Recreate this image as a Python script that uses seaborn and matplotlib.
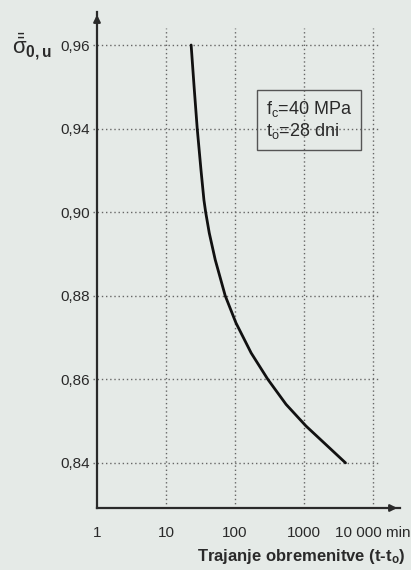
import numpy as np
import pandas as pd
import matplotlib
matplotlib.use("Agg")
import matplotlib.pyplot as plt
import seaborn as sns

# Data
t_min = [23.1, 25.5, 28.3, 32.1, 35.4, 37.5, 42.3, 51.6, 72, 103, 171, 298,
         548, 1068, 2063, 3981]
sigma = [0.960, 0.950, 0.940, 0.9201, 0.9058, 0.900, 0.8950, 0.8886, 0.880,
         0.8735, 0.8663, 0.860, 0.854, 0.8488, 0.8444, 0.840]

y_ticks = [0.84, 0.86, 0.88, 0.90, 0.94, 0.96]
y_labels = ["0,84", "0,86", "0,88", "0,90", "0,94", "0,96"]
x_ticks = [1, 10, 100, 1000, 10000]
x_labels = ["1", "10", "100", "1000", "10 000 min"]

df = pd.DataFrame({"t": t_min, "sigma": sigma})

sns.set_theme(style="white")
plt.rcParams["font.family"] = ["Liberation Sans", "DejaVu Sans"]
plt.rcParams["mathtext.fontset"] = "custom"
plt.rcParams["mathtext.rm"] = "Liberation Sans"
plt.rcParams["mathtext.it"] = "Liberation Sans:italic"
plt.rcParams["mathtext.bf"] = "Liberation Sans:bold"
plt.rcParams["mathtext.default"] = "regular"

bg = "#e5eae7"
ink = "#2a2a2a"

fig = plt.figure(figsize=(4.11, 5.70), dpi=100, facecolor=bg)
ax = fig.add_axes([97 / 411, 1 - 508 / 570, 303 / 411, 496 / 570])
ax.set_facecolor(bg)

# y axis: equally spaced labels (0,92 is skipped in the original)
_vals = np.array([0.70] + y_ticks + [1.10])
_pos = np.array([-7, 0, 1, 2, 3, 4, 5, 12])
ax.set_yscale("function", functions=(lambda v: np.interp(v, _vals, _pos),
                                     lambda p: np.interp(p, _pos, _vals)))
ax.set_xscale("log")
ax.set_xlim(1, 24500)
ax.set_ylim(0.8292, 0.9679)

# dotted grid
ax.hlines(y_ticks, 0.88, 12600, colors="#666", linestyles=(0, (1, 2)), lw=1, clip_on=False)
ax.vlines(x_ticks[1:], 0.8292, 0.9641, colors="#666", linestyles=(0, (1, 2)), lw=1)

sns.lineplot(data=df, x="t", y="sigma", ax=ax, color="#111", lw=2)

ax.set_yticks(y_ticks, y_labels)
ax.set_xticks(x_ticks, x_labels)
ax.xaxis.set_minor_locator(matplotlib.ticker.NullLocator())
ax.yaxis.set_minor_locator(matplotlib.ticker.NullLocator())
ax.tick_params(axis="x", length=0, pad=13, labelsize=11, labelcolor=ink)
ax.tick_params(axis="y", left=False, length=0, pad=5, labelsize=11, labelcolor=ink)
ax.set_xlabel("")
ax.set_ylabel("")

for s in ["top", "right"]:
    ax.spines[s].set_visible(False)
for s in ["left", "bottom"]:
    ax.spines[s].set_color(ink)
    ax.spines[s].set_linewidth(1.6)

# arrow heads on axes
ax.annotate("", xy=(1.0, 0), xytext=(0.96, 0), xycoords="axes fraction",
            arrowprops=dict(arrowstyle="-|>", color=ink, lw=1.6, mutation_scale=10))
ax.annotate("", xy=(0, 1.0), xytext=(0, 0.97), xycoords="axes fraction",
            arrowprops=dict(arrowstyle="-|>", color=ink, lw=1.6, mutation_scale=10))

ax.text(0.70, 0.782, "f$_c$=40 MPa\nt$_o$=28 dni", transform=ax.transAxes,
        ha="center", va="center", multialignment="left", fontsize=13, color=ink,
        linespacing=1.1,
        bbox=dict(boxstyle="square,pad=0.5", fc="none", ec="#555", lw=1))

fig.text(12 / 411, 1 - 47 / 570, r"$\bar{\bar{\sigma}}_{\mathbf{0,u}}$",
         fontsize=16, color=ink, ha="left", va="center")
fig.text(405 / 411, 1 - 557 / 570, "Trajanje obremenitve (t-t$_o$)",
         fontsize=12, fontweight="bold", color=ink, ha="right", va="center")

fig.savefig("out.png", dpi=100, facecolor=bg)
